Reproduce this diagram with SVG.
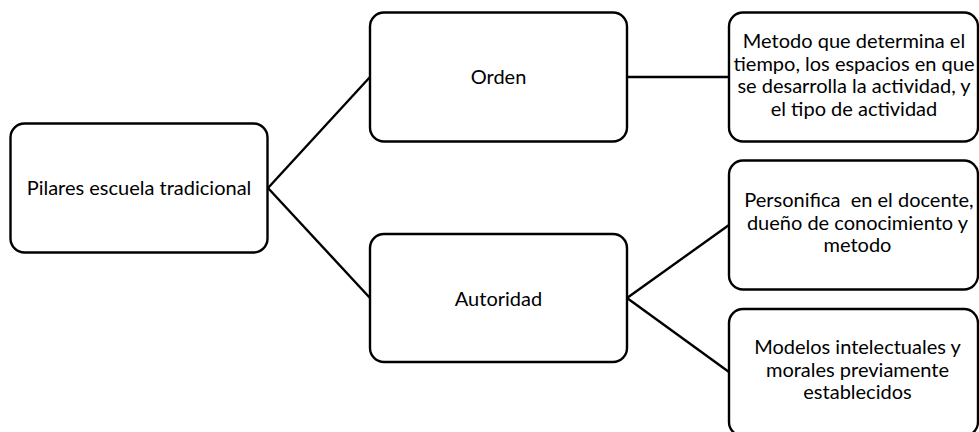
<svg xmlns="http://www.w3.org/2000/svg" width="979" height="432" viewBox="0 0 979 432">
<style>
.box{fill:#fff;stroke:#000;stroke-width:2.4}
.conn{stroke:#000;stroke-width:2.4;fill:none}
text{font-family:Lato,"Liberation Sans",sans-serif;font-size:20px;fill:#000;text-anchor:middle}
</style>
<rect width="979" height="432" fill="#fff"/>
<g id="connectors">
<line class="conn" x1="268" y1="188" x2="370" y2="77"/>
<line class="conn" x1="268" y1="188" x2="370" y2="298"/>
<line class="conn" x1="627" y1="77" x2="729" y2="77"/>
<line class="conn" x1="627" y1="298" x2="729" y2="225"/>
<line class="conn" x1="627" y1="298" x2="729" y2="372"/>
</g>
<g id="pilares">
<rect class="box" x="10.5" y="123.5" width="257" height="129" rx="14"/>
<text x="139" y="194.5">Pilares escuela tradicional</text>
</g>
<g id="orden">
<rect class="box" x="370" y="12.5" width="257" height="129" rx="14"/>
<text x="498.5" y="83.5">Orden</text>
</g>
<g id="autoridad">
<rect class="box" x="370" y="234" width="257" height="128" rx="14"/>
<text x="498.5" y="305.5">Autoridad</text>
</g>
<g id="metodo">
<rect class="box" x="729" y="12.5" width="249" height="129" rx="14"/>
<text x="854" y="48">Metodo que determina el</text>
<text x="854" y="70.5">tiempo, los espacios en que</text>
<text x="854" y="93">se desarrolla la actividad, y</text>
<text x="854" y="115.5">el tipo de actividad</text>
</g>
<g id="personifica">
<rect class="box" x="729" y="160.5" width="249" height="129" rx="14"/>
<text x="859" y="207" xml:space="preserve">Personifica  en el docente,</text>
<text x="857.5" y="229.5">dueño de conocimiento y</text>
<text x="857.5" y="252">metodo</text>
</g>
<g id="modelos">
<rect class="box" x="729" y="309" width="249" height="127" rx="14"/>
<text x="857.5" y="354">Modelos intelectuales y</text>
<text x="857.5" y="376.5">morales previamente</text>
<text x="857.5" y="399">establecidos</text>
</g>
</svg>
